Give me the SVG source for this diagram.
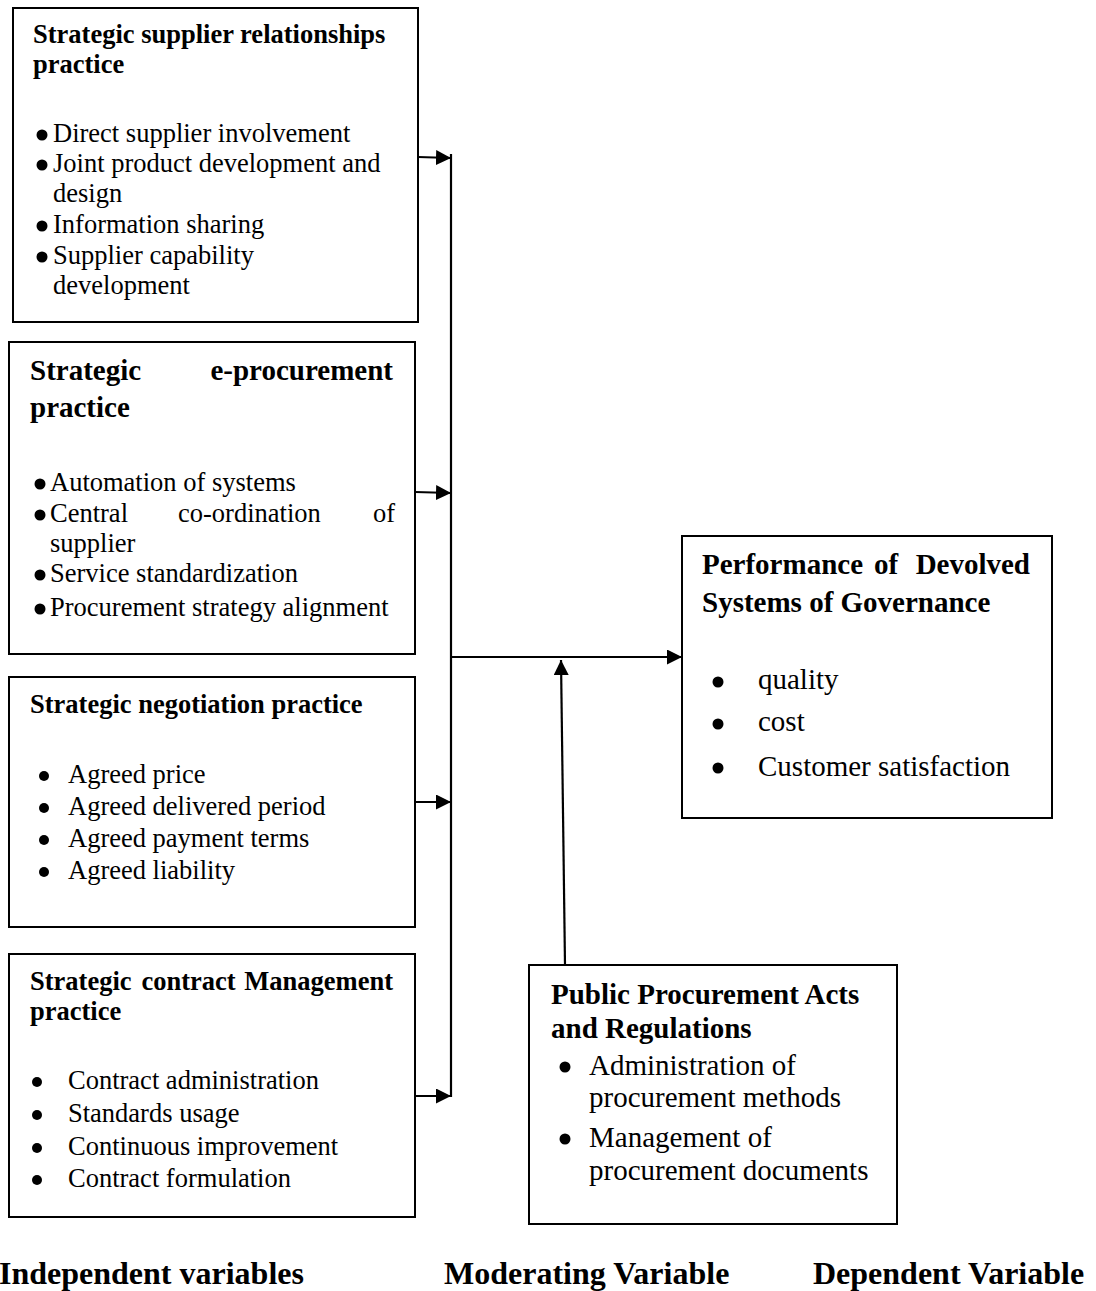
<svg xmlns="http://www.w3.org/2000/svg" width="1096" height="1291" viewBox="0 0 1096 1291">
<style>
  .box{fill:#fff;stroke:#000;stroke-width:2}
  .t{font-family:"Liberation Serif","Times New Roman",serif;fill:#000}
  .h{font-weight:bold;font-size:26.5px}
  .h2{font-weight:bold;font-size:29px}
  .b{font-size:26.5px}
  .b2{font-size:29px}
  .f{font-weight:bold;font-size:32px}
  .dot{fill:#000}
  .ln{stroke:#000;stroke-width:2.2;fill:none}
</style>
<defs>
  <marker id="ah" markerUnits="userSpaceOnUse" markerWidth="16" markerHeight="16" refX="15" refY="7.5" orient="auto">
    <path d="M0,0 L15,7.5 L0,15 Z" fill="#000"/>
  </marker>
</defs>

<g id="connectors">
  <line class="ln" x1="451" y1="154" x2="451" y2="1097"/>
  <line class="ln" x1="418" y1="157" x2="451" y2="158" marker-end="url(#ah)"/>
  <line class="ln" x1="415" y1="492" x2="451" y2="493" marker-end="url(#ah)"/>
  <line class="ln" x1="415" y1="802" x2="451" y2="802" marker-end="url(#ah)"/>
  <line class="ln" x1="415" y1="1096" x2="451" y2="1096" marker-end="url(#ah)"/>
  <line class="ln" x1="451" y1="657" x2="682" y2="657" marker-end="url(#ah)"/>
  <line class="ln" x1="565" y1="965" x2="561" y2="660" marker-end="url(#ah)"/>
</g>

<g id="supplier-relationships">
  <rect class="box" x="13" y="8" width="405" height="314"/>
  <text class="t h" x="33" y="43">Strategic supplier relationships</text>
  <text class="t h" x="33" y="73">practice</text>
  <circle class="dot" cx="42" cy="135" r="5.5"/>
  <text class="t b" x="53" y="142">Direct supplier involvement</text>
  <circle class="dot" cx="42" cy="165" r="5.5"/>
  <text class="t b" x="53" y="172">Joint product development and</text>
  <text class="t b" x="53" y="202">design</text>
  <circle class="dot" cx="42" cy="226" r="5.5"/>
  <text class="t b" x="53" y="233">Information sharing</text>
  <circle class="dot" cx="42" cy="257" r="5.5"/>
  <text class="t b" x="53" y="264">Supplier capability</text>
  <text class="t b" x="53" y="294">development</text>
</g>

<g id="e-procurement">
  <rect class="box" x="9" y="342" width="406" height="312"/>
  <text class="t h2" x="30" y="380">Strategic</text>
  <text class="t h2" x="393" y="380" text-anchor="end">e-procurement</text>
  <text class="t h2" x="30" y="417">practice</text>
  <circle class="dot" cx="40" cy="484" r="5.5"/>
  <text class="t b" x="50" y="491">Automation of systems</text>
  <circle class="dot" cx="40" cy="515" r="5.5"/>
  <text class="t b" x="50" y="522">Central</text>
  <text class="t b" x="178" y="522">co-ordination</text>
  <text class="t b" x="395" y="522" text-anchor="end">of</text>
  <text class="t b" x="50" y="552">supplier</text>
  <circle class="dot" cx="40" cy="575" r="5.5"/>
  <text class="t b" x="50" y="582">Service standardization</text>
  <circle class="dot" cx="40" cy="609" r="5.5"/>
  <text class="t b" x="50" y="616">Procurement strategy alignment</text>
</g>

<g id="negotiation">
  <rect class="box" x="9" y="677" width="406" height="250"/>
  <text class="t h" x="30" y="713">Strategic negotiation practice</text>
  <circle class="dot" cx="44" cy="776" r="5"/>
  <text class="t b" x="68" y="783">Agreed price</text>
  <circle class="dot" cx="44" cy="808" r="5"/>
  <text class="t b" x="68" y="815">Agreed delivered period</text>
  <circle class="dot" cx="44" cy="840" r="5"/>
  <text class="t b" x="68" y="847">Agreed payment terms</text>
  <circle class="dot" cx="44" cy="872" r="5"/>
  <text class="t b" x="68" y="879">Agreed liability</text>
</g>

<g id="contract-management">
  <rect class="box" x="9" y="954" width="406" height="263"/>
  <text class="t h" x="30" y="990">Strategic</text>
  <text class="t h" x="141.5" y="990">contract</text>
  <text class="t h" x="393" y="990" text-anchor="end">Management</text>
  <text class="t h" x="30" y="1020">practice</text>
  <circle class="dot" cx="37" cy="1082" r="5"/>
  <text class="t b" x="68" y="1089">Contract administration</text>
  <circle class="dot" cx="37" cy="1115" r="5"/>
  <text class="t b" x="68" y="1122">Standards usage</text>
  <circle class="dot" cx="37" cy="1148" r="5"/>
  <text class="t b" x="68" y="1155">Continuous improvement</text>
  <circle class="dot" cx="37" cy="1180" r="5"/>
  <text class="t b" x="68" y="1187">Contract formulation</text>
</g>

<g id="performance">
  <rect class="box" x="682" y="536" width="370" height="282"/>
  <text class="t h2" x="702" y="574">Performance</text>
  <text class="t h2" x="874" y="574">of</text>
  <text class="t h2" x="1030" y="574" text-anchor="end">Devolved</text>
  <text class="t h2" x="702" y="612">Systems of Governance</text>
  <circle class="dot" cx="718" cy="682" r="5.5"/>
  <text class="t b2" x="758" y="689">quality</text>
  <circle class="dot" cx="718" cy="724" r="5.5"/>
  <text class="t b2" x="758" y="731"> cost</text>
  <circle class="dot" cx="718" cy="768" r="5.5"/>
  <text class="t b2" x="758" y="776">Customer satisfaction</text>
</g>

<g id="public-procurement">
  <rect class="box" x="529" y="965" width="368" height="259"/>
  <text class="t h2" x="551" y="1004">Public Procurement Acts</text>
  <text class="t h2" x="551" y="1038">and Regulations</text>
  <circle class="dot" cx="565" cy="1067" r="5.5"/>
  <text class="t b2" x="589" y="1075">Administration of</text>
  <text class="t b2" x="589" y="1107">procurement methods</text>
  <circle class="dot" cx="565" cy="1139" r="5.5"/>
  <text class="t b2" x="589" y="1147">Management of</text>
  <text class="t b2" x="589" y="1180">procurement documents</text>
</g>

<g id="labels">
  <text class="t f" x="-1" y="1284">Independent variables</text>
  <text class="t f" x="444" y="1284">Moderating Variable</text>
  <text class="t f" x="813" y="1284">Dependent Variable</text>
</g>
</svg>
